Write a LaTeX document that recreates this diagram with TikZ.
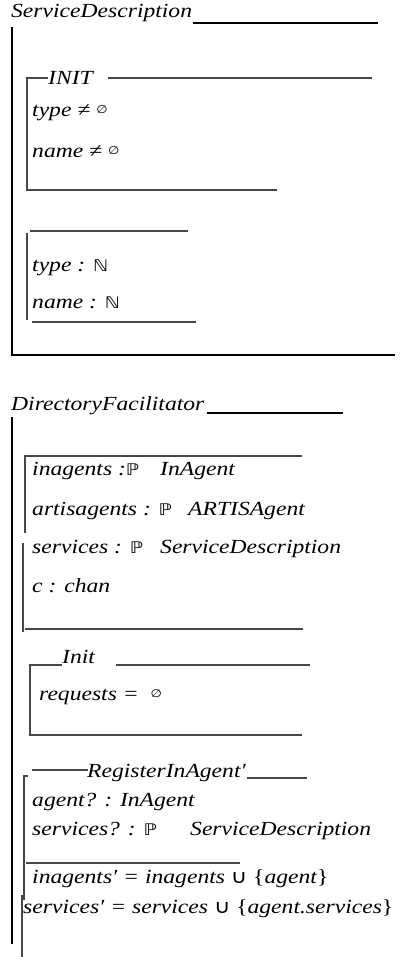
\documentclass[tikz,border=0pt]{standalone}
\usepackage{graphicx}
\usepackage{fontspec}
\setmainfont{Liberation Serif}
\newfontfamily\symfont{DejaVu Sans}
\newcommand\wtxt[1]{\scalebox{1.18}[1]{#1}}
\newcommand\dsP{{\symfont\upshape\fontsize{16}{16}\selectfont ℙ}}
\newcommand\dsN{{\symfont\upshape\fontsize{16}{16}\selectfont ℕ}}
\newcommand\mtset{\raisebox{3pt}{\symfont\upshape\fontsize{11}{11}\selectfont ∅}}
\newcommand\cupop{{\symfont\upshape\fontsize{19}{19}\selectfont ∪}}
\newcommand\ubr[1]{{\upshape #1}}
\begin{document}
\begin{tikzpicture}[x=1pt,y=-1pt,
  txt/.style={anchor=base west, inner sep=0pt, font=\fontsize{20}{22}\selectfont\itshape},
  heavy/.style={line width=2.6pt, line cap=rect},
  thin/.style={line width=1.1pt, draw=black!72}]
\useasboundingbox (0,0) rectangle (410,957);
% ---------- ServiceDescription ----------
\node[txt] (sdT) at (11,18) {\wtxt{ServiceDescription}};
\coordinate (sdA) at (194,23); \coordinate (sdB) at (377,23);
\draw[heavy] (sdA) -- (sdB);
\coordinate (sdV1) at (12,28); \coordinate (sdV2) at (12,355); \coordinate (sdV3) at (394,355);
\draw[heavy] (sdV1) -- (sdV2) -- (sdV3);
% INIT box
\node[txt] (initT) at (48,85) {\wtxt{INIT}};
\coordinate (i1) at (27,78); \coordinate (i2) at (48,78);
\coordinate (i3) at (108,78); \coordinate (i4) at (372,78);
\coordinate (i5) at (27,190); \coordinate (i6) at (277,190);
\draw[thin] (i2) -- (i1) -- (i5) -- (i6);
\draw[thin] (i3) -- (i4);
\node[txt] (ty1) at (32,117) {\wtxt{type ≠ \mtset}};
\node[txt] (nm1) at (32,158) {\wtxt{name ≠ \mtset}};
% state box
\coordinate (s1) at (30,231); \coordinate (s2) at (188,231);
\coordinate (s3) at (27,233); \coordinate (s4) at (27,320);
\coordinate (s5) at (32,322); \coordinate (s6) at (196,322);
\draw[thin] (s1) -- (s2); \draw[thin] (s3) -- (s4); \draw[thin] (s5) -- (s6);
\node[txt] (ty2) at (32,272) {\wtxt{type : \dsN}};
\node[txt] (nm2) at (32,308) {\wtxt{name : \dsN}};
% ---------- DirectoryFacilitator ----------
\node[txt] (dfT) at (11,410) {\wtxt{DirectoryFacilitator}};
\coordinate (dfA) at (208,413); \coordinate (dfB) at (342,413);
\draw[heavy] (dfA) -- (dfB);
\coordinate (dfV1) at (12,418); \coordinate (dfV2) at (12,943);
\draw[heavy] (dfV1) -- (dfV2);
% state schema
\coordinate (a1) at (25,456); \coordinate (a2) at (302,456);
\coordinate (a3) at (25,533); \coordinate (a4) at (23,543); \coordinate (a5) at (23,632);
\coordinate (a6) at (25,629); \coordinate (a7) at (303,629);
\draw[thin] (a2) -- (a1) -- (a3); \draw[thin] (a4) -- (a5); \draw[thin] (a6) -- (a7);
\node[txt] (l1) at (32,475) {\wtxt{inagents :\dsP}};
\node[txt] (l1b) at (160,475) {\wtxt{InAgent}};
\node[txt] (l2) at (32,515) {\wtxt{artisagents : \dsP}};
\node[txt] (l2b) at (188,515) {\wtxt{ARTISAgent}};
\node[txt] (l3) at (32,553) {\wtxt{services : \dsP}};
\node[txt] (l3b) at (160,553) {\wtxt{ServiceDescription}};
\node[txt] (l4) at (32,592) {\wtxt{c : chan}};
% Init
\node[txt] (inT) at (62,663) {\wtxt{Init}};
\coordinate (b1) at (30,665); \coordinate (b2) at (62,665);
\coordinate (b3) at (116,665); \coordinate (b4) at (310,665);
\coordinate (b5) at (30,735); \coordinate (b6) at (302,735);
\draw[thin] (b2) -- (b1) -- (b5) -- (b6); \draw[thin] (b3) -- (b4);
\node[txt] (rq) at (39,700) {\wtxt{requests = \hspace{5pt}\mtset}};
% RegisterInAgent'
\node[txt] (rgT) at (87,777) {\wtxt{RegisterInAgent′}};
\coordinate (c1) at (32,770); \coordinate (c2) at (88,770);
\coordinate (c3) at (247,778); \coordinate (c4) at (307,778);
\draw[thin] (c1) -- (c2); \draw[thin] (c3) -- (c4);
\coordinate (c5) at (28,776); \coordinate (c6) at (24,776); \coordinate (c7) at (24,900);
\coordinate (c8) at (22,895); \coordinate (c9) at (22,957);
\draw[thin] (c5) -- (c6) -- (c7); \draw[thin] (c8) -- (c9);
\node[txt] (r1) at (32,806) {\wtxt{agent? : InAgent}};
\node[txt] (r2) at (32,835) {\wtxt{services? : \dsP}};
\node[txt] (r2b) at (190,835) {\wtxt{ServiceDescription}};
\coordinate (c10) at (26,863); \coordinate (c11) at (240,863);
\draw[thin] (c10) -- (c11);
\node[txt] (r3) at (32,883) {\wtxt{inagents′ = inagents \cupop\ \ubr{\{}agent\ubr{\}}}};
\node[txt] (r4) at (23,913) {\wtxt{services′ = services \cupop\ \ubr{\{}agent.services\ubr{\}}}};
\end{tikzpicture}
\end{document}
